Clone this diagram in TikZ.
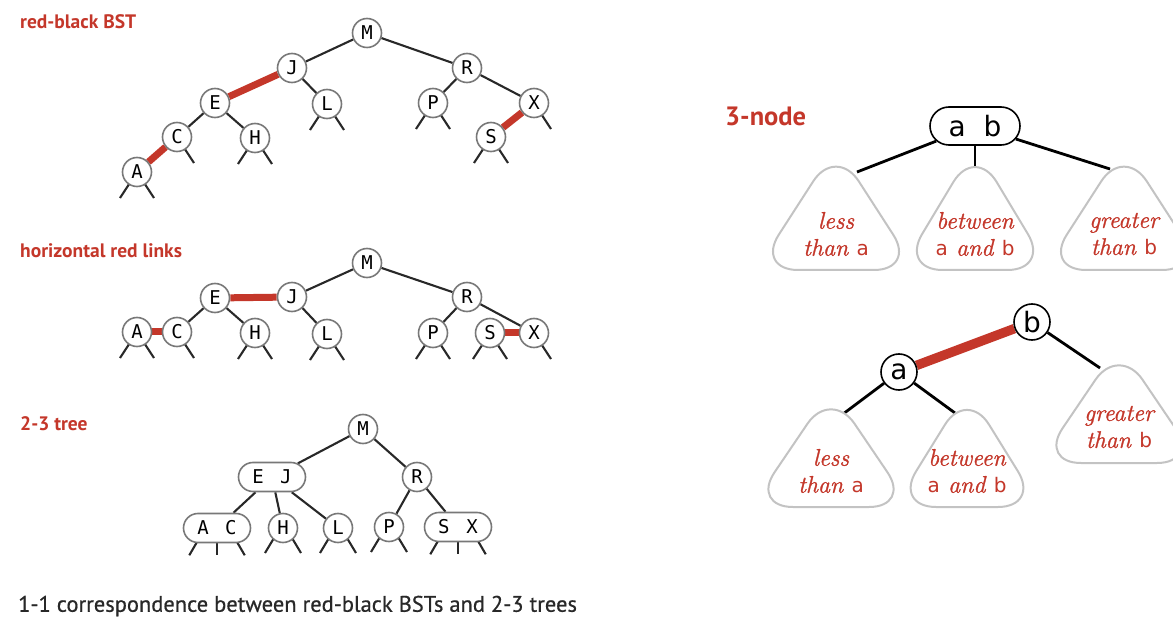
\documentclass[tikz,border=0pt]{standalone}
\usepackage{fontspec}
\newfontfamily\labfont{PT Sans}
\newfontfamily\captfont{PT Sans}[FakeBold=0.6]
\newfontfamily\keyfont{DejaVu Sans Mono}
\newfontfamily\abfont{DejaVu Sans}
\newfontfamily\itfont{Latin Modern Roman}[ItalicFeatures={FakeBold=1.2}]
\usetikzlibrary{shapes.misc}
\pgfdeclarelayer{bg}
\pgfsetlayers{bg,main}
\definecolor{rbred}{RGB}{196,55,42}
\definecolor{ngray}{RGB}{120,120,120}
\definecolor{lblack}{RGB}{40,40,40}
\definecolor{tgray}{RGB}{195,195,195}
\newcommand\sab[1]{{\abfont\upshape\fontsize{20}{20}\selectfont #1}}
\newcommand\lfl[1]{\draw[blk] (#1.center) -- ++(-17,-26) coordinate (#1-l);}
\newcommand\lfr[1]{\draw[blk] (#1.center) -- ++(17,-26) coordinate (#1-r);}
% 3-node leaves: left, middle, right
\newcommand\lfthree[1]{%
  \draw[blk] ([xshift=-19pt,yshift=3pt]#1.south) -- ++(-8.75,-15) coordinate (#1-l);
  \draw[blk] ([yshift=3pt]#1.south) -- ++(0,-15) coordinate (#1-m);
  \draw[blk] ([xshift=19pt,yshift=3pt]#1.south) -- ++(8.75,-15) coordinate (#1-r);}
% rounded triangle: #1 cx, #2 bottom y, #3 width, #4 height
\newcommand\mytri[4]{%
  \draw[tri] ({#1},{-(#2-#4-22)}) -- ({#1+#3/2+16},{-#2}) -- ({#1-#3/2-16},{-#2}) -- cycle;}
\tikzset{
  bn/.style={circle, draw=ngray, line width=1.6pt, fill=white, minimum size=29pt,
    inner sep=0pt, text=black, font=\keyfont\fontsize{19}{19}\selectfont},
  tn/.style={rounded rectangle, draw=ngray, line width=1.6pt, fill=white,
    minimum width=67pt, minimum height=29pt, inner sep=0pt, text=black,
    font=\keyfont\fontsize{19}{19}\selectfont},
  abn/.style={circle, draw=black, line width=1.6pt, fill=white, minimum size=36pt,
    inner sep=0pt, text=black, font=\abfont\fontsize{28}{28}\selectfont},
  abbox/.style={rounded rectangle, draw=black, line width=1.6pt, fill=white,
    minimum width=90pt, minimum height=38pt, inner sep=0pt, text=black,
    font=\abfont\fontsize{28}{28}\selectfont},
  blk/.style={draw=lblack, line width=2.1pt},
  bigblk/.style={draw=black, line width=2.8pt},
  redl/.style={draw=rbred, line width=7pt},
  bigred/.style={draw=rbred, line width=9.5pt},
  tri/.style={draw=tgray, line width=2pt, fill=white, rounded corners=42pt},
  tritext/.style={align=center, text=rbred, inner sep=0pt,
    font=\itfont\fontsize{24}{27}\selectfont\itshape},
  lab/.style={anchor=west, inner sep=0pt, text=rbred,
    font=\labfont\bfseries\fontsize{19.5}{19.5}\selectfont},
  capt/.style={anchor=west, inner sep=0pt, text=lblack,
    font=\captfont\fontsize{22.5}{22.5}\selectfont},
}
\begin{document}
\begin{tikzpicture}[x=1pt,y=1pt]
\useasboundingbox (0,0) rectangle (1173,-620);

% ---------- labels ----------
\node[lab] (lab1) at (20,-22) {red-black BST};
\node[lab] (lab2) at (20,-251) {horizontal red links};
\node[lab] (lab3) at (20,-424) {2-3 tree};
\node[lab, font=\labfont\bfseries\fontsize{26.5}{26.5}\selectfont] (lab4) at (725,-116) {3-node};
\node[capt] (capt) at (18,-606) {1-1 correspondence between red-black BSTs and 2-3 trees};

% ---------- tree 1: red-black BST ----------
\node[bn] (t1M) at (367,-33) {M};
\node[bn] (t1J) at (292,-68) {J};
\node[bn] (t1R) at (467,-68) {R};
\node[bn] (t1E) at (215,-103) {E};
\node[bn] (t1L) at (327,-104) {L};
\node[bn] (t1P) at (433,-103) {P};
\node[bn] (t1X) at (534,-103) {X};
\node[bn] (t1C) at (177,-137) {C};
\node[bn] (t1H) at (255,-138) {H};
\node[bn] (t1S) at (491,-137) {S};
\node[bn] (t1A) at (137,-172) {A};

% ---------- tree 2: horizontal red links ----------
\node[bn] (t2M) at (367,-263) {M};
\node[bn] (t2E) at (215,-298) {E};
\node[bn] (t2J) at (292,-297) {J};
\node[bn] (t2R) at (467,-297) {R};
\node[bn] (t2A) at (137,-332) {A};
\node[bn] (t2C) at (177,-332) {C};
\node[bn] (t2H) at (255,-333) {H};
\node[bn] (t2L) at (327,-334) {L};
\node[bn] (t2P) at (433,-333) {P};
\node[bn] (t2S) at (490,-333) {S};
\node[bn] (t2X) at (534,-333) {X};

% ---------- tree 3: 2-3 tree ----------
\node[bn] (t3M) at (363,-429) {M};
\node[tn] (t3EJ) at (272,-477) {E\hspace{16.5pt}J};
\node[bn] (t3R) at (417,-477) {R};
\node[tn] (t3AC) at (217,-528) {A\hspace{16.5pt}C};
\node[bn] (t3H) at (283,-528) {H};
\node[bn] (t3L) at (338,-528) {L};
\node[bn] (t3P) at (389,-527) {P};
\node[tn] (t3SX) at (458,-527) {S\hspace{17pt}X};

% ---------- right: 3-node ----------
\node[abbox] (ab) at (975,-126) {a\hspace{18pt}b};
\node[abn] (nb) at (1032,-322) {b};
\node[abn] (na) at (899,-372) {a};

\begin{pgfonlayer}{bg}
  % tree 1 links
  \draw[blk] (t1M) -- (t1J);
  \draw[blk] (t1M) -- (t1R);
  \draw[redl] (t1J) -- (t1E);
  \draw[blk] (t1J) -- (t1L);
  \draw[blk] (t1E) -- (t1C);
  \draw[blk] (t1E) -- (t1H);
  \draw[redl] (t1C) -- (t1A);
  \draw[blk] (t1R) -- (t1P);
  \draw[blk] (t1R) -- (t1X);
  \draw[redl] (t1X) -- (t1S);
  \lfl{t1A}\lfr{t1A}\lfr{t1C}\lfl{t1H}\lfr{t1H}\lfl{t1L}\lfr{t1L}
  \lfl{t1P}\lfr{t1P}\lfl{t1S}\lfr{t1S}\lfr{t1X}
  % tree 2 links
  \draw[blk] (t2M) -- (t2J);
  \draw[blk] (t2M) -- (t2R);
  \draw[redl] (t2E) -- (t2J);
  \draw[blk] (t2J) -- (t2L);
  \draw[blk] (t2E) -- (t2C);
  \draw[blk] (t2E) -- (t2H);
  \draw[redl] (t2A) -- (t2C);
  \draw[blk] (t2R) -- (t2P);
  \draw[blk] (t2R) -- (t2X);
  \draw[redl] (t2S) -- (t2X);
  \lfl{t2A}\lfr{t2A}\lfr{t2C}\lfl{t2H}\lfr{t2H}\lfl{t2L}\lfr{t2L}
  \lfl{t2P}\lfr{t2P}\lfl{t2S}\lfr{t2S}\lfr{t2X}
  % tree 3 links
  \draw[blk] (t3M) -- (t3EJ);
  \draw[blk] (t3M) -- (t3R);
  \draw[blk] (t3EJ) -- (t3AC);
  \draw[blk] (t3EJ) -- (t3H);
  \draw[blk] (t3EJ) -- (t3L);
  \draw[blk] (t3R) -- (t3P);
  \draw[blk] (t3R) -- (t3SX);
  \lfthree{t3AC}\lfthree{t3SX}
  \draw[blk] ([xshift=-3pt]t3H.center) -- ++(-15,-25) coordinate (t3H-l);
  \draw[blk] ([xshift=3pt]t3H.center) -- ++(15,-25) coordinate (t3H-r);
  \draw[blk] ([xshift=-3pt]t3L.center) -- ++(-15,-25) coordinate (t3L-l);
  \draw[blk] ([xshift=3pt]t3L.center) -- ++(15,-25) coordinate (t3L-r);
  \draw[blk] ([xshift=-3pt]t3P.center) -- ++(-15,-25) coordinate (t3P-l);
  \draw[blk] ([xshift=3pt]t3P.center) -- ++(15,-25) coordinate (t3P-r);
\end{pgfonlayer}

% ---------- right: subtrees ----------
\mytri{836}{270}{128}{102}
\mytri{975}{270}{117}{102}
\mytri{1124}{270}{128}{102}
\mytri{831}{507}{128}{96}
\mytri{967}{507}{114}{96}
\mytri{1119}{463}{128}{96}
\coordinate (e1) at (857,-172);
\coordinate (e2) at (975,-167);
\coordinate (e3) at (1110,-169);
\coordinate (f1) at (843,-414);
\coordinate (f2) at (955,-413);
\coordinate (f3) at (1100,-368);
\node[tritext] (x1) at (836,-234) {less\\than \sab{a}};
\node[tritext] (x2) at (975,-234) {between\\\sab{a} and \sab{b}};
\node[tritext] (x3) at (1124,-234) {greater\\than \sab{b}};
\node[tritext] (y1) at (831,-471) {less\\than \sab{a}};
\node[tritext] (y2) at (967,-471) {between\\\sab{a} and \sab{b}};
\node[tritext] (y3) at (1119,-427) {greater\\than \sab{b}};
\begin{pgfonlayer}{bg}
  \draw[bigblk] (ab) -- (e1);
  \draw[bigblk] (ab) -- (e2);
  \draw[bigblk] (ab) -- (e3);
  \draw[bigred] (na) -- (nb);
  \draw[bigblk] (na) -- (f1);
  \draw[bigblk] (na) -- (f2);
  \draw[bigblk] (nb) -- (f3);
\end{pgfonlayer}
\end{tikzpicture}
\end{document}
